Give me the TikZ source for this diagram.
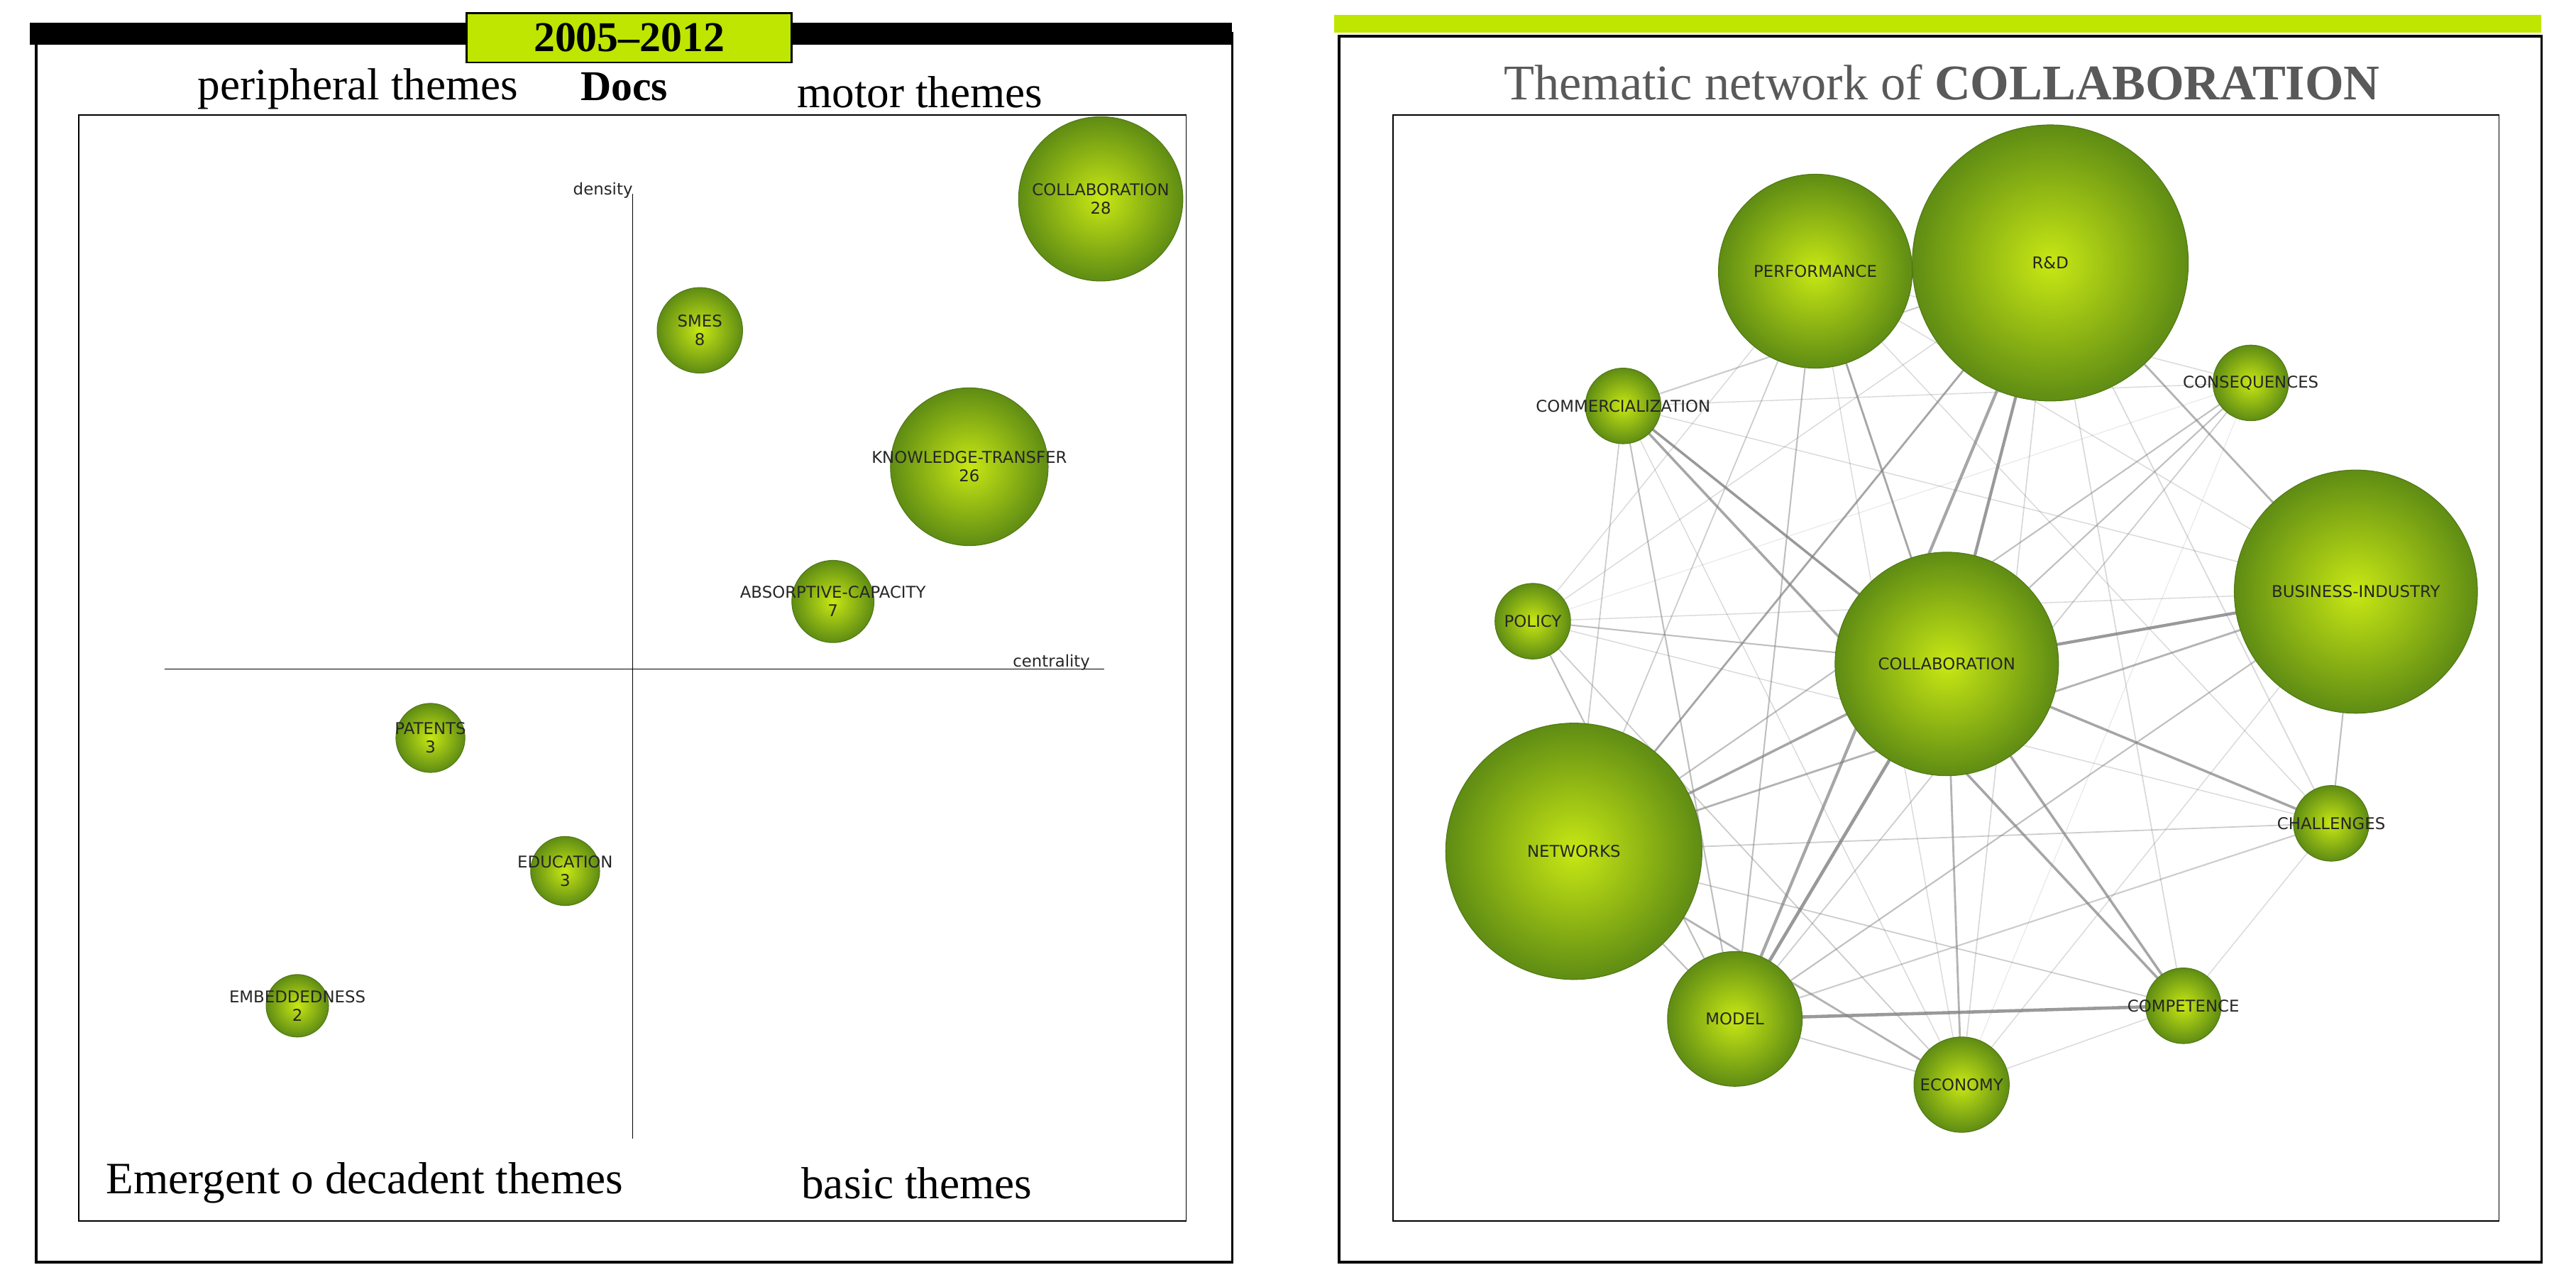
\documentclass[tikz,border=0pt]{standalone}
\usepackage{fontspec}
\setmainfont{Liberation Serif}
\newfontfamily\bub{DejaVu Sans}
\definecolor{lime}{RGB}{190,230,0}
\definecolor{gin}{RGB}{200,232,20}
\definecolor{gout}{RGB}{95,140,20}
\definecolor{gdr}{RGB}{80,120,20}
\begin{document}
\begin{tikzpicture}[x=0.02315cm,y=-0.02315cm,
  bubble/.style={circle,inner sep=0pt,shading=radial,inner color=gin,outer color=gout,draw=gdr,line width=0.3pt},
  blab/.style={font=\bub\fontsize{6.5}{7.5}\selectfont,align=center,text=black!85},
  big/.style={font=\fontsize{18}{20}\selectfont}]
\useasboundingbox (0,0) rectangle (1568,783);
% left panel
\draw[line width=1pt] (22,20) rectangle (750,768);
\fill (18,14) rectangle (750,27);
\draw (48,70) rectangle (722,743);
\node[draw,line width=0.8pt,fill=lime,minimum width=198*0.02315cm,minimum height=30*0.02315cm,font=\bfseries\fontsize{17}{19}\selectfont] (yr) at (383,23) {2005--2012};
\node[big] (pt) at (218,54) {peripheral themes};
\node[font=\bfseries\fontsize{17}{19}\selectfont] (docs) at (380,53) {Docs};
\node[big] (mt) at (560,56) {motor themes};
\node[big] (et) at (222,720) {Emergent o decadent themes};
\node[big] (bt) at (558,720) {basic themes};
\coordinate (vt) at (385,118); \coordinate (vb) at (385,693);
\coordinate (hl) at (100,407); \coordinate (hr) at (672,407);
\draw (vt)--(vb); \draw (hl)--(hr);
\node[blab] (dn) at (367,116) {density};
\node[blab] (cn) at (640,403) {centrality};
\foreach \n/\x/\y/\r/\t in {c1/670/121/50/{COLLABORATION\\28},c2/426/201/26/{SMES\\8},c3/590/284/48/{KNOWLEDGE-TRANSFER\\26},c4/507/366/25/{ABSORPTIVE-CAPACITY\\7},c5/262/449/21/{PATENTS\\3},c6/344/530/21/{EDUCATION\\3},c7/181/612/19/{EMBEDDEDNESS\\2}}{
  \node[bubble,minimum size=2*\r*0.02315cm] (\n) at (\x,\y) {};
  \node[blab] at (\x,\y) {\t};
}
% right panel
\draw[line width=1pt] (815,22) rectangle (1547,768);
\fill[lime] (812,9) rectangle (1547,20);
\draw (848,70) rectangle (1521,743);
\node[font=\fontsize{20}{22}\selectfont,text=black!65] (tt) at (1182,50) {Thematic network of \textbf{COLLABORATION}};
\foreach \n/\x/\y in {PE/1105/165,RD/1248/160,CM/988/247,CS/1370/233,BI/1434/360,PO/933/378,CO/1185/404,NE/958/518,CH/1419/501,CP/1329/612,MO/1056/620,EC/1194/660}{
  \coordinate (\n) at (\x,\y);
}
\foreach \a/\b/\w/\o in {CO/RD/1.2/0.8,CO/PE/0.8/0.7,CO/CM/1/0.8,CO/BI/1.2/0.8,CO/NE/1/0.7,CO/MO/1.3/0.8,CO/EC/0.8/0.6,CO/CP/1/0.7,CO/CH/1/0.7,CO/PO/0.6/0.5,CO/CS/0.6/0.5,
RD/NE/0.8/0.7,RD/MO/1.2/0.7,RD/BI/0.8/0.6,RD/CM/0.6/0.4,RD/EC/0.5/0.3,RD/CP/0.5/0.3,RD/CH/0.5/0.3,RD/PO/0.4/0.3,
PE/MO/0.6/0.5,PE/NE/0.5/0.4,PE/EC/0.4/0.3,PE/CH/0.4/0.3,PE/BI/0.4/0.3,PE/PO/0.4/0.3,
CM/MO/0.6/0.5,CM/CP/1/0.7,CM/NE/0.5/0.4,CM/EC/0.4/0.3,CM/BI/0.4/0.3,
CS/NE/0.6/0.5,CS/MO/0.5/0.4,CS/PE/0.4/0.3,CS/CM/0.4/0.3,CS/EC/0.3/0.2,
BI/NE/0.8/0.6,BI/MO/0.6/0.5,BI/PO/0.4/0.3,BI/CH/0.6/0.5,BI/EC/0.4/0.3,
PO/MO/0.6/0.5,PO/EC/0.5/0.4,PO/CH/0.4/0.3,PO/CS/0.3/0.2,
NE/MO/0.6/0.5,NE/EC/0.8/0.6,NE/CP/0.5/0.4,NE/CH/0.5/0.4,
MO/CP/1.3/0.8,MO/EC/0.5/0.4,MO/CH/0.6/0.4,CP/EC/0.4/0.3,CH/CP/0.4/0.3}{
  \draw[gray,line width=\w pt,draw opacity=\o] (\a)--(\b);
}
\foreach \n/\x/\y/\r/\t in {PE/1105/165/59/PERFORMANCE,RD/1248/160/84/R\&D,CM/988/247/23/COMMERCIALIZATION,CS/1370/233/23/CONSEQUENCES,BI/1434/360/74/BUSINESS-INDUSTRY,PO/933/378/23/POLICY,CO/1185/404/68/COLLABORATION,NE/958/518/78/NETWORKS,CH/1419/501/23/CHALLENGES,CP/1329/612/23/COMPETENCE,MO/1056/620/41/MODEL,EC/1194/660/29/ECONOMY}{
  \node[bubble,minimum size=2*\r*0.02315cm] (n\n) at (\x,\y) {};
  \node[blab] at (\x,\y) {\t};
}
\end{tikzpicture}
\end{document}
